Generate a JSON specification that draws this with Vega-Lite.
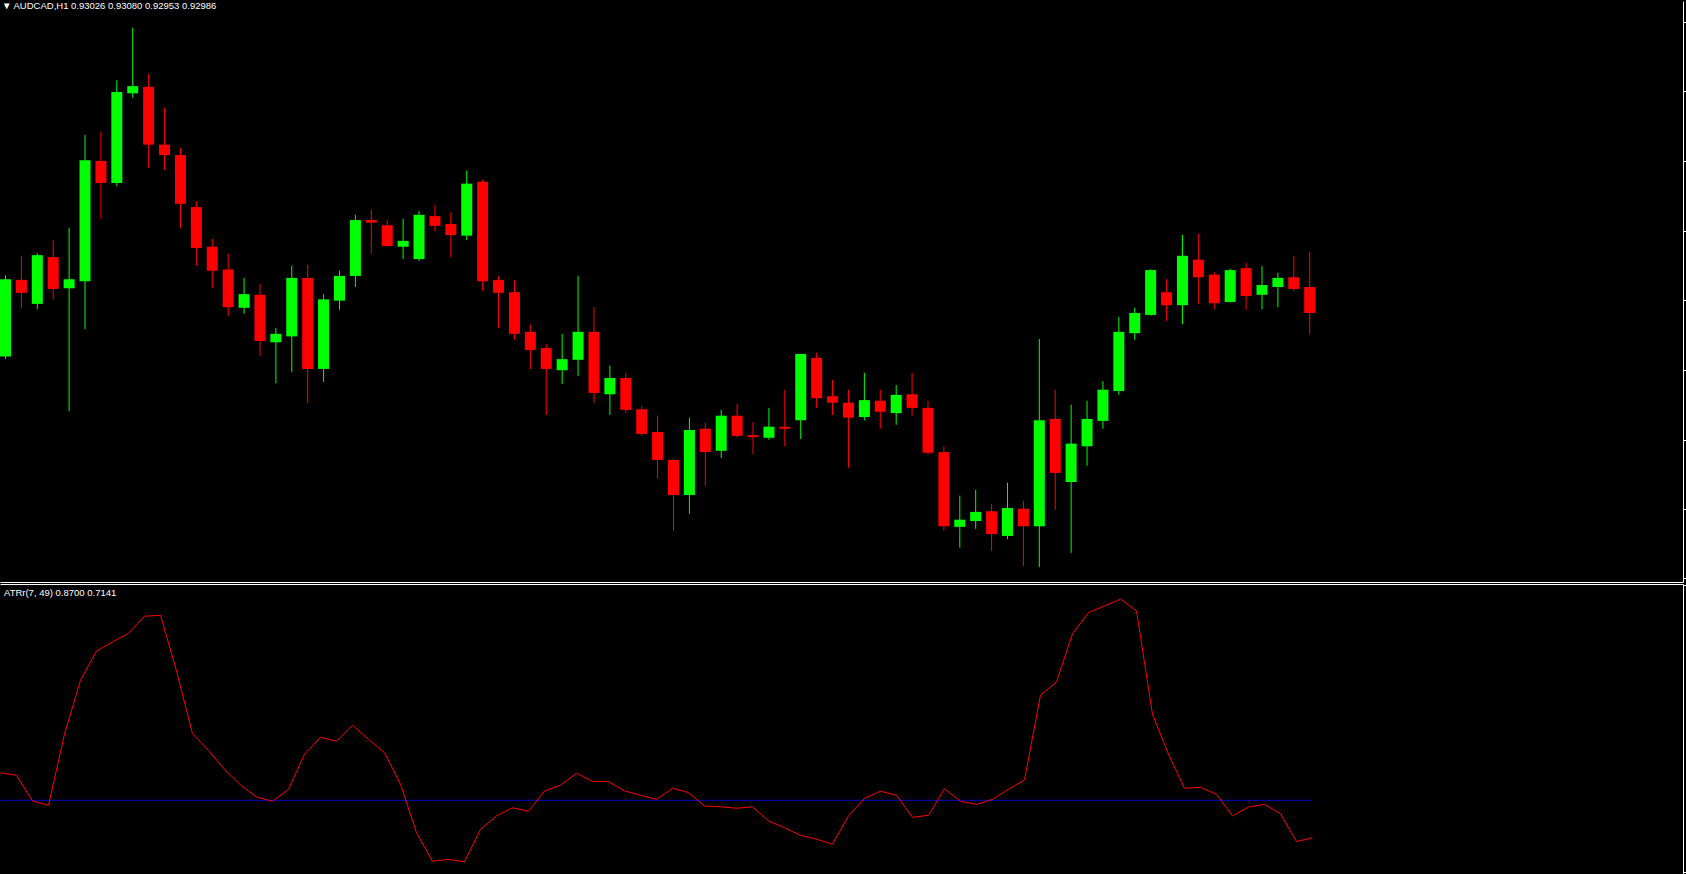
{
  "$schema": "https://vega.github.io/schema/vega-lite/v6.json",
  "background": "black",
  "padding": 0,
  "spacing": 2,
  "config": {
    "view": {"stroke": null},
    "axis": {"grid": false, "labels": false, "title": null, "domainColor": "#ffffff", "domainWidth": 1, "tickColor": "#ffffff", "tickWidth": 1},
    "title": {"font": "Liberation Sans", "fontWeight": "normal", "color": "#ffffff", "fontSize": 9.5, "anchor": "start", "frame": "group", "baseline": "alphabetic"}
  },
  "data": {"values": [
    {"i":0,"o":0.92919,"h":0.93044,"l":0.92915,"c":0.93038,"atr":0.985,"lvl":0.87},
    {"i":1,"o":0.93037,"h":0.93074,"l":0.92993,"c":0.93017,"atr":0.974,"lvl":0.87},
    {"i":2,"o":0.93000,"h":0.93078,"l":0.92992,"c":0.93075,"atr":0.867,"lvl":0.87},
    {"i":3,"o":0.93072,"h":0.93098,"l":0.93007,"c":0.93023,"atr":0.849,"lvl":0.87},
    {"i":4,"o":0.93024,"h":0.93117,"l":0.92835,"c":0.93038,"atr":1.146,"lvl":0.87},
    {"i":5,"o":0.93035,"h":0.93260,"l":0.92961,"c":0.93221,"atr":1.370,"lvl":0.87},
    {"i":6,"o":0.93220,"h":0.93265,"l":0.93131,"c":0.93186,"atr":1.492,"lvl":0.87},
    {"i":7,"o":0.93186,"h":0.93344,"l":0.93181,"c":0.93326,"atr":1.530,"lvl":0.87},
    {"i":8,"o":0.93324,"h":0.93425,"l":0.93317,"c":0.93335,"atr":1.566,"lvl":0.87},
    {"i":9,"o":0.93334,"h":0.93354,"l":0.93209,"c":0.93245,"atr":1.637,"lvl":0.87},
    {"i":10,"o":0.93245,"h":0.93302,"l":0.93206,"c":0.93229,"atr":1.641,"lvl":0.87},
    {"i":11,"o":0.93229,"h":0.93240,"l":0.93116,"c":0.93154,"atr":1.409,"lvl":0.87},
    {"i":12,"o":0.93149,"h":0.93158,"l":0.93059,"c":0.93086,"atr":1.148,"lvl":0.87},
    {"i":13,"o":0.93088,"h":0.93100,"l":0.93024,"c":0.93051,"atr":1.078,"lvl":0.87},
    {"i":14,"o":0.93053,"h":0.93077,"l":0.92981,"c":0.92995,"atr":0.999,"lvl":0.87},
    {"i":15,"o":0.92994,"h":0.93040,"l":0.92985,"c":0.93015,"atr":0.934,"lvl":0.87},
    {"i":16,"o":0.93014,"h":0.93031,"l":0.92920,"c":0.92943,"atr":0.884,"lvl":0.87},
    {"i":17,"o":0.92941,"h":0.92963,"l":0.92878,"c":0.92954,"atr":0.866,"lvl":0.87},
    {"i":18,"o":0.92950,"h":0.93059,"l":0.92895,"c":0.93040,"atr":0.916,"lvl":0.87},
    {"i":19,"o":0.93040,"h":0.93060,"l":0.92847,"c":0.92900,"atr":1.062,"lvl":0.87},
    {"i":20,"o":0.92900,"h":0.93015,"l":0.92880,"c":0.93007,"atr":1.133,"lvl":0.87},
    {"i":21,"o":0.93005,"h":0.93051,"l":0.92991,"c":0.93043,"atr":1.116,"lvl":0.87},
    {"i":22,"o":0.93043,"h":0.93137,"l":0.93026,"c":0.93129,"atr":1.183,"lvl":0.87},
    {"i":23,"o":0.93129,"h":0.93145,"l":0.93078,"c":0.93125,"atr":1.124,"lvl":0.87},
    {"i":24,"o":0.93121,"h":0.93129,"l":0.93088,"c":0.93089,"atr":1.068,"lvl":0.87},
    {"i":25,"o":0.93088,"h":0.93131,"l":0.93069,"c":0.93097,"atr":0.937,"lvl":0.87},
    {"i":26,"o":0.93069,"h":0.93143,"l":0.93066,"c":0.93137,"atr":0.735,"lvl":0.87},
    {"i":27,"o":0.93135,"h":0.93152,"l":0.93112,"c":0.93120,"atr":0.616,"lvl":0.87},
    {"i":28,"o":0.93123,"h":0.93141,"l":0.93072,"c":0.93106,"atr":0.624,"lvl":0.87},
    {"i":29,"o":0.93105,"h":0.93205,"l":0.93098,"c":0.93185,"atr":0.614,"lvl":0.87},
    {"i":30,"o":0.93188,"h":0.93191,"l":0.93020,"c":0.93035,"atr":0.749,"lvl":0.87},
    {"i":31,"o":0.93037,"h":0.93043,"l":0.92963,"c":0.93017,"atr":0.805,"lvl":0.87},
    {"i":32,"o":0.93018,"h":0.93037,"l":0.92945,"c":0.92954,"atr":0.839,"lvl":0.87},
    {"i":33,"o":0.92957,"h":0.92968,"l":0.92900,"c":0.92929,"atr":0.824,"lvl":0.87},
    {"i":34,"o":0.92932,"h":0.92938,"l":0.92829,"c":0.92900,"atr":0.909,"lvl":0.87},
    {"i":35,"o":0.92898,"h":0.92954,"l":0.92877,"c":0.92915,"atr":0.933,"lvl":0.87},
    {"i":36,"o":0.92914,"h":0.93043,"l":0.92889,"c":0.92957,"atr":0.983,"lvl":0.87},
    {"i":37,"o":0.92957,"h":0.92995,"l":0.92848,"c":0.92863,"atr":0.949,"lvl":0.87},
    {"i":38,"o":0.92861,"h":0.92905,"l":0.92829,"c":0.92886,"atr":0.948,"lvl":0.87},
    {"i":39,"o":0.92886,"h":0.92894,"l":0.92832,"c":0.92837,"atr":0.909,"lvl":0.87},
    {"i":40,"o":0.92838,"h":0.92843,"l":0.92797,"c":0.92800,"atr":0.891,"lvl":0.87},
    {"i":41,"o":0.92803,"h":0.92828,"l":0.92731,"c":0.92760,"atr":0.874,"lvl":0.87},
    {"i":42,"o":0.92760,"h":0.92761,"l":0.92651,"c":0.92706,"atr":0.920,"lvl":0.87},
    {"i":43,"o":0.92706,"h":0.92825,"l":0.92677,"c":0.92806,"atr":0.902,"lvl":0.87},
    {"i":44,"o":0.92808,"h":0.92817,"l":0.92720,"c":0.92772,"atr":0.846,"lvl":0.87},
    {"i":45,"o":0.92774,"h":0.92837,"l":0.92763,"c":0.92828,"atr":0.843,"lvl":0.87},
    {"i":46,"o":0.92828,"h":0.92846,"l":0.92795,"c":0.92797,"atr":0.837,"lvl":0.87},
    {"i":47,"o":0.92798,"h":0.92818,"l":0.92769,"c":0.92795,"atr":0.843,"lvl":0.87},
    {"i":48,"o":0.92794,"h":0.92840,"l":0.92791,"c":0.92811,"atr":0.784,"lvl":0.87},
    {"i":49,"o":0.92811,"h":0.92868,"l":0.92781,"c":0.92808,"atr":0.756,"lvl":0.87},
    {"i":50,"o":0.92821,"h":0.92923,"l":0.92792,"c":0.92923,"atr":0.724,"lvl":0.87},
    {"i":51,"o":0.92917,"h":0.92925,"l":0.92840,"c":0.92855,"atr":0.708,"lvl":0.87},
    {"i":52,"o":0.92858,"h":0.92883,"l":0.92829,"c":0.92848,"atr":0.687,"lvl":0.87},
    {"i":53,"o":0.92848,"h":0.92868,"l":0.92748,"c":0.92825,"atr":0.805,"lvl":0.87},
    {"i":54,"o":0.92826,"h":0.92894,"l":0.92821,"c":0.92852,"atr":0.878,"lvl":0.87},
    {"i":55,"o":0.92851,"h":0.92868,"l":0.92808,"c":0.92834,"atr":0.908,"lvl":0.87},
    {"i":56,"o":0.92832,"h":0.92875,"l":0.92814,"c":0.92860,"atr":0.891,"lvl":0.87},
    {"i":57,"o":0.92861,"h":0.92894,"l":0.92828,"c":0.92840,"atr":0.799,"lvl":0.87},
    {"i":58,"o":0.92840,"h":0.92851,"l":0.92768,"c":0.92771,"atr":0.808,"lvl":0.87},
    {"i":59,"o":0.92772,"h":0.92781,"l":0.92651,"c":0.92658,"atr":0.918,"lvl":0.87},
    {"i":60,"o":0.92657,"h":0.92705,"l":0.92625,"c":0.92668,"atr":0.866,"lvl":0.87},
    {"i":61,"o":0.92666,"h":0.92714,"l":0.92654,"c":0.92680,"atr":0.853,"lvl":0.87},
    {"i":62,"o":0.92681,"h":0.92692,"l":0.92620,"c":0.92646,"atr":0.874,"lvl":0.87},
    {"i":63,"o":0.92643,"h":0.92725,"l":0.92638,"c":0.92686,"atr":0.916,"lvl":0.87},
    {"i":64,"o":0.92685,"h":0.92697,"l":0.92597,"c":0.92658,"atr":0.955,"lvl":0.87},
    {"i":65,"o":0.92658,"h":0.92946,"l":0.92595,"c":0.92821,"atr":1.308,"lvl":0.87},
    {"i":66,"o":0.92823,"h":0.92868,"l":0.92683,"c":0.92740,"atr":1.363,"lvl":0.87},
    {"i":67,"o":0.92726,"h":0.92845,"l":0.92617,"c":0.92785,"atr":1.564,"lvl":0.87},
    {"i":68,"o":0.92781,"h":0.92851,"l":0.92751,"c":0.92823,"atr":1.652,"lvl":0.87},
    {"i":69,"o":0.92820,"h":0.92881,"l":0.92808,"c":0.92868,"atr":1.680,"lvl":0.87},
    {"i":70,"o":0.92866,"h":0.92980,"l":0.92860,"c":0.92957,"atr":1.708,"lvl":0.87},
    {"i":71,"o":0.92955,"h":0.92994,"l":0.92945,"c":0.92986,"atr":1.659,"lvl":0.87},
    {"i":72,"o":0.92983,"h":0.93053,"l":0.92982,"c":0.93052,"atr":1.228,"lvl":0.87},
    {"i":73,"o":0.93018,"h":0.93038,"l":0.92974,"c":0.92998,"atr":1.062,"lvl":0.87},
    {"i":74,"o":0.92998,"h":0.93106,"l":0.92969,"c":0.93074,"atr":0.920,"lvl":0.87},
    {"i":75,"o":0.93068,"h":0.93108,"l":0.93000,"c":0.93041,"atr":0.924,"lvl":0.87},
    {"i":76,"o":0.93045,"h":0.93049,"l":0.92992,"c":0.93001,"atr":0.895,"lvl":0.87},
    {"i":77,"o":0.93003,"h":0.93054,"l":0.93002,"c":0.93052,"atr":0.805,"lvl":0.87},
    {"i":78,"o":0.93055,"h":0.93063,"l":0.92991,"c":0.93012,"atr":0.842,"lvl":0.87},
    {"i":79,"o":0.93014,"h":0.93058,"l":0.92992,"c":0.93029,"atr":0.853,"lvl":0.87},
    {"i":80,"o":0.93026,"h":0.93048,"l":0.92995,"c":0.93040,"atr":0.814,"lvl":0.87},
    {"i":81,"o":0.93041,"h":0.93074,"l":0.93020,"c":0.93023,"atr":0.698,"lvl":0.87},
    {"i":82,"o":0.93026,"h":0.93080,"l":0.92953,"c":0.92986,"atr":0.7141,"lvl":0.87}
  ]},
  "vconcat": [
    {
      "width": 1683,
      "height": 581,
      "title": {"text": "▼  AUDCAD,H1  0.93026 0.93080 0.92953 0.92986", "offset": -9, "dx": 2},
      "layer": [
        {
          "mark": {"type": "rule", "clip": true, "strokeWidth": 1},
          "encoding": {
            "x": {"field": "i", "type": "quantitative", "scale": {"domain": [-0.03125, 105.15625], "nice": false, "zero": false},
                  "axis": {"orient": "bottom", "ticks": false, "labels": false, "domain": true}},
            "y": {"field": "l", "type": "quantitative", "scale": {"domain": [0.9257215, 0.93466], "nice": false, "zero": false},
                  "axis": {"orient": "right", "ticks": true, "tickSize": 3, "labels": false, "domain": true,
                           "values": [0.934337, 0.933798, 0.933275, 0.932737, 0.932198, 0.93166, 0.931122, 0.930583, 0.93006, 0.929522, 0.928983, 0.928445, 0.927906, 0.927368, 0.926845, 0.926306, 0.925783]}},
            "y2": {"field": "h"},
            "color": {"condition": {"test": "datum.c >= datum.o", "value": "#00ff00"}, "value": "#ff0000"}
          }
        },
        {
          "mark": {"type": "bar", "clip": true, "width": 11},
          "encoding": {
            "x": {"field": "i", "type": "quantitative"},
            "y": {"field": "o", "type": "quantitative"},
            "y2": {"field": "c"},
            "color": {"condition": {"test": "datum.c >= datum.o", "value": "#00ff00"}, "value": "#ff0000"}
          }
        }
      ]
    },
    {
      "width": 1683,
      "height": 291,
      "title": {"text": "ATRr(7, 49) 0.8700 0.7141", "offset": -13, "dx": 4},
      "layer": [
        {
          "mark": {"type": "line", "color": "#0000cd", "strokeWidth": 1, "clip": true},
          "encoding": {
            "x": {"field": "i", "type": "quantitative", "scale": {"domain": [-0.03125, 105.15625], "nice": false, "zero": false},
                  "axis": {"orient": "top", "ticks": false, "labels": false, "domain": true}},
            "y": {"field": "lvl", "type": "quantitative", "scale": {"domain": [0.5588, 1.7713], "nice": false, "zero": false},
                  "axis": {"orient": "right", "ticks": true, "tickSize": 3, "labels": false, "domain": true, "values": [1.766, 0.571]}}
          }
        },
        {
          "mark": {"type": "line", "color": "#ff0000", "strokeWidth": 1, "clip": true},
          "encoding": {
            "x": {"field": "i", "type": "quantitative"},
            "y": {"field": "atr", "type": "quantitative"}
          }
        }
      ]
    }
  ]
}
